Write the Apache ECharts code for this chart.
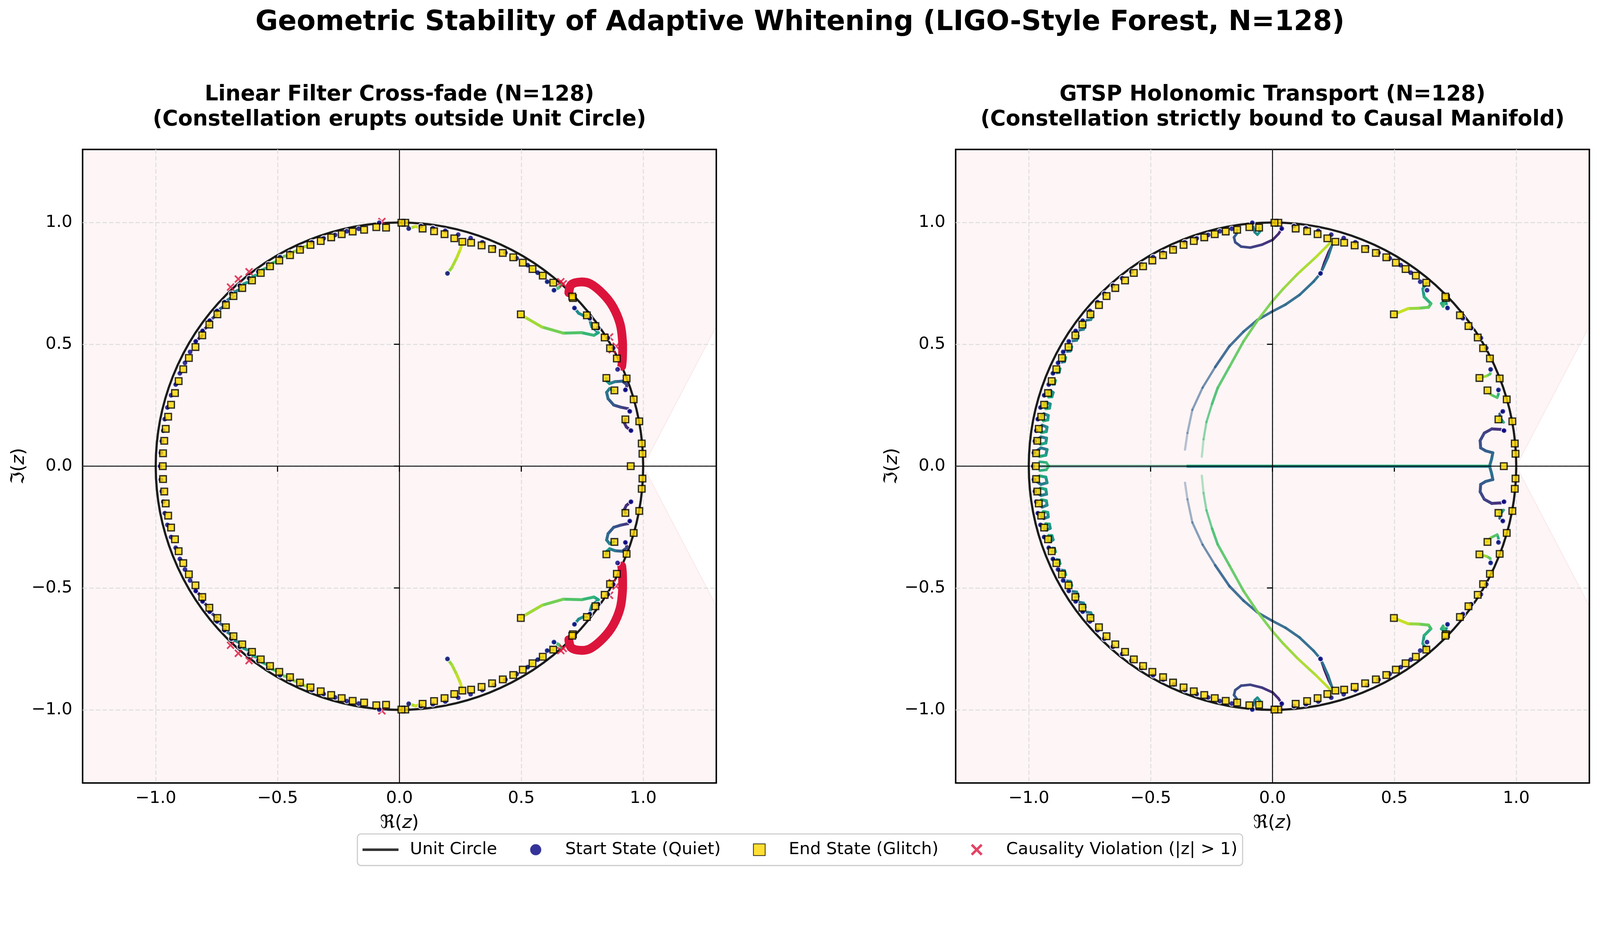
<!DOCTYPE html>
<html><head><meta charset="utf-8">
<script src="https://cdn.jsdelivr.net/npm/echarts@6/dist/echarts.min.js"></script>
<style>html,body{margin:0;padding:0;background:#fff;overflow:hidden}#c{position:absolute;left:0;top:0}</style>
</head><body><div id="c"></div>
<script>
// ---------------- text ----------------
const TITLE = 'Geometric Stability of Adaptive Whitening (LIGO-Style Forest, N=128)';
const SUBTITLES = ['Linear Filter Cross-fade (N=128)\n(Constellation erupts outside Unit Circle)',
                   'GTSP Holonomic Transport (N=128)\n(Constellation strictly bound to Causal Manifold)'];
const LEGEND_NAMES = ['Unit Circle', 'Start State (Quiet)', 'End State (Glitch)', 'Causality Violation (|z| > 1)'];
const AXIS_MIN = -1.3, AXIS_MAX = 1.3;
const TICKS = [-1.0, -0.5, 0.0, 0.5, 1.0];

// ---------------- reference geometry ----------------
const UNIT_CIRCLE = [[0, 0, 1]];
const ZERO_LINES = [[-1.3, 0, 1.3, 0], [0, -1.3, 0, 1.3]];
const BG_POLY = [[-1.3,-1.3],[1.3,-1.3],[1.3,-0.574],[1.0,0.0],[1.3,0.574],[1.3,1.3],[-1.3,1.3]];

// ---------------- end state (glitch) roots ----------------
const SQ_UP = [[0.949,0.000],[0.997,0.051],[0.994,0.093],[0.984,0.184],[0.927,0.192],[0.961,0.274],[0.882,0.311],[0.849,0.362],[0.932,0.360],[0.892,0.442],[0.864,0.484],[0.842,0.528],[0.804,0.575],[0.769,0.619],[0.712,0.690],[0.709,0.696],[0.498,0.623],[0.631,0.753],[0.588,0.782],[0.546,0.809],[0.506,0.835],[0.467,0.857],[0.424,0.875],[0.380,0.891],[0.337,0.906],[0.294,0.917],[0.258,0.921],[0.225,0.935],[0.185,0.952],[0.142,0.964],[0.095,0.975],[0.024,0.999],[0.008,0.999],[-0.055,0.979],[-0.095,0.981],[-0.145,0.970],[-0.192,0.963],[-0.237,0.952],[-0.280,0.939],[-0.323,0.924],[-0.365,0.908],[-0.408,0.888],[-0.449,0.866],[-0.493,0.844],[-0.531,0.820],[-0.569,0.793],[-0.605,0.762],[-0.645,0.731],[-0.681,0.698],[-0.712,0.661],[-0.747,0.623],[-0.780,0.581],[-0.809,0.537],[-0.837,0.489],[-0.864,0.444],[-0.887,0.398],[-0.906,0.349],[-0.921,0.300],[-0.937,0.252],[-0.949,0.203],[-0.959,0.153],[-0.965,0.104],[-0.970,0.053],[-0.971,0.000]];
const SQ_DN = [[0.997,-0.051],[0.994,-0.093],[0.984,-0.184],[0.927,-0.192],[0.961,-0.274],[0.882,-0.311],[0.849,-0.362],[0.932,-0.360],[0.892,-0.442],[0.864,-0.484],[0.842,-0.528],[0.804,-0.575],[0.769,-0.619],[0.712,-0.690],[0.709,-0.696],[0.498,-0.623],[0.631,-0.753],[0.588,-0.782],[0.546,-0.809],[0.506,-0.835],[0.467,-0.857],[0.424,-0.875],[0.380,-0.891],[0.337,-0.906],[0.294,-0.917],[0.258,-0.921],[0.225,-0.935],[0.185,-0.952],[0.142,-0.964],[0.095,-0.975],[0.024,-0.999],[0.008,-0.999],[-0.055,-0.979],[-0.095,-0.981],[-0.145,-0.970],[-0.192,-0.963],[-0.237,-0.952],[-0.280,-0.939],[-0.323,-0.924],[-0.365,-0.908],[-0.408,-0.888],[-0.449,-0.866],[-0.493,-0.844],[-0.531,-0.820],[-0.569,-0.793],[-0.605,-0.762],[-0.645,-0.731],[-0.681,-0.698],[-0.712,-0.661],[-0.747,-0.623],[-0.780,-0.581],[-0.809,-0.537],[-0.837,-0.489],[-0.864,-0.444],[-0.887,-0.398],[-0.906,-0.349],[-0.921,-0.300],[-0.937,-0.252],[-0.949,-0.203],[-0.959,-0.153],[-0.965,-0.104],[-0.970,-0.053]];

// ---------------- start state (quiet) roots ----------------
const DOT_UP = [[0.950,0.146],[0.945,0.225],[0.927,0.313],[0.895,0.397],[0.877,0.485],[0.855,0.526],[0.815,0.567],[0.781,0.607],[0.718,0.649],[0.634,0.722],[0.606,0.757],[0.567,0.794],[0.526,0.825],[0.481,0.853],[0.435,0.876],[0.388,0.898],[0.340,0.919],[0.292,0.936],[0.241,0.950],[0.188,0.966],[0.137,0.977],[0.088,0.985],[0.038,0.975],[0.197,0.791],[-0.083,0.999],[-0.167,0.974],[-0.216,0.964],[-0.264,0.949],[-0.311,0.935],[-0.360,0.919],[-0.405,0.896],[-0.449,0.876],[-0.490,0.858],[-0.538,0.828],[-0.579,0.798],[-0.617,0.771],[-0.655,0.741],[-0.690,0.708],[-0.718,0.673],[-0.749,0.637],[-0.779,0.597],[-0.808,0.555],[-0.836,0.512],[-0.859,0.469],[-0.880,0.424],[-0.901,0.381],[-0.918,0.335],[-0.937,0.291],[-0.952,0.241],[-0.963,0.193],[-0.969,0.146],[-0.975,0.103],[-0.979,0.055],[-0.982,0.000]];
const DOT_DN = [[0.950,-0.146],[0.945,-0.225],[0.927,-0.313],[0.895,-0.397],[0.877,-0.485],[0.855,-0.526],[0.815,-0.567],[0.781,-0.607],[0.718,-0.649],[0.634,-0.722],[0.606,-0.757],[0.567,-0.794],[0.526,-0.825],[0.481,-0.853],[0.435,-0.876],[0.388,-0.898],[0.340,-0.919],[0.292,-0.936],[0.241,-0.950],[0.188,-0.966],[0.137,-0.977],[0.088,-0.985],[0.038,-0.975],[0.197,-0.791],[-0.083,-0.999],[-0.167,-0.974],[-0.216,-0.964],[-0.264,-0.949],[-0.311,-0.935],[-0.360,-0.919],[-0.405,-0.896],[-0.449,-0.876],[-0.490,-0.858],[-0.538,-0.828],[-0.579,-0.798],[-0.617,-0.771],[-0.655,-0.741],[-0.690,-0.708],[-0.718,-0.673],[-0.749,-0.637],[-0.779,-0.597],[-0.808,-0.555],[-0.836,-0.512],[-0.859,-0.469],[-0.880,-0.424],[-0.901,-0.381],[-0.918,-0.335],[-0.937,-0.291],[-0.952,-0.241],[-0.963,-0.193],[-0.969,-0.146],[-0.975,-0.103],[-0.979,-0.055]];

// ---------------- linear cross-fade trajectories ----------------
const LIN_TRAJ_UP = [
 [[0.197,0.791],[0.215,0.815],[0.235,0.855],[0.250,0.890],[0.258,0.921]],
 [[0.781,0.600],[0.789,0.572],[0.816,0.548],[0.798,0.537],[0.747,0.548],[0.672,0.546],[0.585,0.571],[0.516,0.611],[0.498,0.623]],
 [[0.718,0.649],[0.735,0.628],[0.755,0.618],[0.770,0.618]],
 [[0.927,0.313],[0.934,0.334],[0.914,0.349],[0.885,0.347],[0.862,0.339],[0.851,0.349],[0.848,0.361]],
 [[0.945,0.225],[0.937,0.236],[0.908,0.242],[0.879,0.251],[0.856,0.277],[0.850,0.303],[0.862,0.318],[0.880,0.310]],
 [[0.950,0.146],[0.931,0.161],[0.922,0.179],[0.927,0.192]],
 [[0.634,0.722],[0.654,0.732],[0.665,0.745]],
 [[0.038,0.975],[0.066,0.984],[0.095,0.975]]
];
const LIN_TRAJ_DN = [
 [[0.197,-0.791],[0.215,-0.815],[0.235,-0.855],[0.250,-0.890],[0.258,-0.921]],
 [[0.781,-0.600],[0.789,-0.572],[0.816,-0.548],[0.798,-0.537],[0.747,-0.548],[0.672,-0.546],[0.585,-0.571],[0.516,-0.611],[0.498,-0.623]],
 [[0.718,-0.649],[0.735,-0.628],[0.755,-0.618],[0.770,-0.618]],
 [[0.927,-0.313],[0.934,-0.334],[0.914,-0.349],[0.885,-0.347],[0.862,-0.339],[0.851,-0.349],[0.848,-0.361]],
 [[0.945,-0.225],[0.937,-0.236],[0.908,-0.242],[0.879,-0.251],[0.856,-0.277],[0.850,-0.303],[0.862,-0.318],[0.880,-0.310]],
 [[0.950,-0.146],[0.931,-0.161],[0.922,-0.179],[0.927,-0.192]],
 [[0.634,-0.722],[0.654,-0.732],[0.665,-0.745]],
 [[0.038,-0.975],[0.066,-0.984],[0.095,-0.975]]
];
// [t0, t1, width, alpha0, alpha1]
const LIN_TRAJ_STYLE = [[0.82,0.95,8],[0.42,0.96,8],[0.45,0.52,8],[0.08,0.65,8],[0.08,0.50,8],[0.08,0.20,8],[0.60,0.75,8],[0.85,0.95,8]];
// short dot -> square moves [x1,y1,x2,y2]
const LIN_ARC_UP = [[-0.836,0.512,-0.809,0.537],[-0.808,0.555,-0.780,0.581],[-0.779,0.597,-0.747,0.623],[-0.749,0.637,-0.712,0.661],[-0.718,0.673,-0.681,0.698],[-0.690,0.708,-0.645,0.731],[-0.655,0.741,-0.605,0.762],[-0.617,0.771,-0.569,0.793],[-0.579,0.798,-0.531,0.820],[-0.538,0.828,-0.493,0.844],[-0.490,0.858,-0.449,0.866],[-0.449,0.876,-0.408,0.888],[-0.405,0.896,-0.365,0.908],[0.606,0.757,0.631,0.753],[0.567,0.794,0.588,0.782],[0.526,0.825,0.546,0.809]];
const LIN_ARC_DN = [[-0.836,-0.512,-0.809,-0.537],[-0.808,-0.555,-0.780,-0.581],[-0.779,-0.597,-0.747,-0.623],[-0.749,-0.637,-0.712,-0.661],[-0.718,-0.673,-0.681,-0.698],[-0.690,-0.708,-0.645,-0.731],[-0.655,-0.741,-0.605,-0.762],[-0.617,-0.771,-0.569,-0.793],[-0.579,-0.798,-0.531,-0.820],[-0.538,-0.828,-0.493,-0.844],[-0.490,-0.858,-0.449,-0.866],[-0.449,-0.876,-0.408,-0.888],[-0.405,-0.896,-0.365,-0.908],[0.606,-0.757,0.631,-0.753],[0.567,-0.794,0.588,-0.782],[0.526,-0.825,0.546,-0.809]];
const LIN_ARC_T = [0.12,0.16,0.22,0.30,0.40,0.48,0.55,0.60,0.66,0.72,0.78,0.84,0.88,0.75,0.80,0.82];

// ---------------- causality violations (|z|>1) ----------------
const VIOL_BAND_UP = [[0.695,0.712],[0.705,0.745],[0.744,0.756],[0.784,0.748],[0.836,0.706],[0.876,0.654],[0.905,0.585],[0.915,0.515],[0.915,0.442],[0.912,0.410]];
const VIOL_BAND_DN = [[0.695,-0.712],[0.705,-0.745],[0.744,-0.756],[0.784,-0.748],[0.836,-0.706],[0.876,-0.654],[0.905,-0.585],[0.915,-0.515],[0.915,-0.442],[0.912,-0.410]];
const VIOL_PTS = [[0.662,0.757],[0.672,0.748],[-0.693,0.735],[-0.661,0.768],[-0.617,0.798],[-0.072,1.004],[0.873,0.478],[0.889,0.492],[0.862,0.530],
                  [0.662,-0.757],[0.672,-0.748],[-0.693,-0.735],[-0.661,-0.768],[-0.617,-0.798],[-0.072,-1.004],[0.873,-0.478],[0.889,-0.492],[0.862,-0.530]];

// ---------------- GTSP holonomic trajectories ----------------
const GT_TRAJ_UP = [
 [[0.197,0.791],[0.212,0.835],[0.230,0.880],[0.245,0.909]],
 [[0.245,0.909],[0.228,0.858],[0.210,0.818],[0.197,0.791],[0.169,0.758],[0.111,0.703],[0.053,0.663],[-0.004,0.633],[-0.062,0.600],[-0.119,0.552],[-0.177,0.492],[-0.235,0.407]],
 [[-0.235,0.407],[-0.287,0.322],[-0.329,0.231],[-0.349,0.136],[-0.359,0.068]],
 [[-0.290,0.039],[-0.283,0.110],[-0.271,0.181],[-0.248,0.256]],
 [[-0.248,0.256],[-0.225,0.321],[-0.177,0.407],[-0.119,0.512],[-0.062,0.597],[-0.004,0.673],[0.044,0.728],[0.102,0.788],[0.178,0.858],[0.236,0.916],[0.258,0.921]],
 [[0.950,0.146],[0.935,0.151],[0.900,0.153],[0.869,0.136],[0.852,0.105],[0.854,0.075],[0.874,0.063],[0.904,0.055],[0.899,0.030],[0.892,0.005],[0.891,0.000]],
 [[0.926,0.312],[0.927,0.296],[0.922,0.281],[0.895,0.294],[0.880,0.310]],
 [[0.945,0.225],[0.932,0.214],[0.935,0.198],[0.948,0.180],[0.930,0.190]],
 [[0.633,0.752],[0.617,0.728],[0.622,0.695],[0.650,0.667],[0.640,0.652],[0.600,0.648],[0.557,0.647],[0.498,0.623]],
 [[0.718,0.649],[0.709,0.683],[0.692,0.668],[0.700,0.655],[0.712,0.690]],
 [[0.038,0.975],[0.025,0.954],[0.001,0.929],[-0.043,0.909],[-0.091,0.897],[-0.129,0.901],[-0.153,0.919],[-0.158,0.939],[-0.148,0.953],[-0.145,0.970]],
 [[-0.083,0.999],[-0.073,0.960],[-0.062,0.950],[-0.052,0.962],[-0.055,0.979]],
 [[0.895,0.397],[0.893,0.378],[0.878,0.370],[0.849,0.362]],
 [[-0.955,0.018],[-0.928,0.015],[-0.918,0.000]],
 [[-0.979,0.055],[-0.950,0.075],[-0.925,0.068],[-0.930,0.045],[-0.955,0.040],[-0.970,0.053]],
 [[-0.975,0.103],[-0.950,0.120],[-0.927,0.115],[-0.930,0.095],[-0.952,0.090],[-0.965,0.104]],
 [[-0.969,0.146],[-0.945,0.168],[-0.925,0.160],[-0.928,0.142],[-0.948,0.138],[-0.959,0.153]],
 [[-0.963,0.193],[-0.938,0.215],[-0.920,0.208],[-0.922,0.190],[-0.940,0.186],[-0.949,0.203]],
 [[-0.952,0.241],[-0.928,0.262],[-0.912,0.255],[-0.915,0.238],[-0.930,0.236],[-0.937,0.252]],
 [[-0.937,0.291],[-0.912,0.310],[-0.900,0.302],[-0.905,0.285],[-0.918,0.284],[-0.921,0.300]],
 [[-0.918,0.335],[-0.894,0.336],[-0.890,0.352],[-0.906,0.349]],
 [[-0.901,0.381],[-0.875,0.384],[-0.871,0.400],[-0.887,0.398]],
 [[-0.880,0.424],[-0.853,0.428],[-0.848,0.446],[-0.864,0.444]],
 [[-0.859,0.469],[-0.829,0.472],[-0.823,0.490],[-0.837,0.489]],
 [[-0.836,0.512],[-0.803,0.516],[-0.796,0.534],[-0.809,0.537]],
 [[-0.808,0.555],[-0.775,0.561],[-0.768,0.578],[-0.780,0.581]],
 [[-0.779,0.597],[-0.745,0.601],[-0.737,0.618],[-0.747,0.623]]
];
const GT_TRAJ_DN = [
 [[0.197,-0.791],[0.212,-0.835],[0.230,-0.880],[0.245,-0.909]],
 [[0.245,-0.909],[0.228,-0.858],[0.210,-0.818],[0.197,-0.791],[0.169,-0.758],[0.111,-0.703],[0.053,-0.663],[-0.004,-0.633],[-0.062,-0.600],[-0.119,-0.552],[-0.177,-0.492],[-0.235,-0.407]],
 [[-0.235,-0.407],[-0.287,-0.322],[-0.329,-0.231],[-0.349,-0.136],[-0.359,-0.068]],
 [[-0.290,-0.039],[-0.283,-0.110],[-0.271,-0.181],[-0.248,-0.256]],
 [[-0.248,-0.256],[-0.225,-0.321],[-0.177,-0.407],[-0.119,-0.512],[-0.062,-0.597],[-0.004,-0.673],[0.044,-0.728],[0.102,-0.788],[0.178,-0.858],[0.236,-0.916],[0.258,-0.921]],
 [[0.950,-0.146],[0.935,-0.151],[0.900,-0.153],[0.869,-0.136],[0.852,-0.105],[0.854,-0.075],[0.874,-0.063],[0.904,-0.055],[0.899,-0.030],[0.892,-0.005],[0.891,0.000]],
 [[0.926,-0.312],[0.927,-0.296],[0.922,-0.281],[0.895,-0.294],[0.880,-0.310]],
 [[0.945,-0.225],[0.932,-0.214],[0.935,-0.198],[0.948,-0.180],[0.930,-0.190]],
 [[0.633,-0.752],[0.617,-0.728],[0.622,-0.695],[0.650,-0.667],[0.640,-0.652],[0.600,-0.648],[0.557,-0.647],[0.498,-0.623]],
 [[0.718,-0.649],[0.709,-0.683],[0.692,-0.668],[0.700,-0.655],[0.712,-0.690]],
 [[0.038,-0.975],[0.025,-0.954],[0.001,-0.929],[-0.043,-0.909],[-0.091,-0.897],[-0.129,-0.901],[-0.153,-0.919],[-0.158,-0.939],[-0.148,-0.953],[-0.145,-0.970]],
 [[-0.083,-0.999],[-0.073,-0.960],[-0.062,-0.950],[-0.052,-0.962],[-0.055,-0.979]],
 [[0.895,-0.397],[0.893,-0.378],[0.878,-0.370],[0.849,-0.362]],
 [[-0.955,-0.018],[-0.928,-0.015],[-0.918,0.000]],
 [[-0.979,-0.055],[-0.950,-0.075],[-0.925,-0.068],[-0.930,-0.045],[-0.955,-0.040],[-0.970,-0.053]],
 [[-0.975,-0.103],[-0.950,-0.120],[-0.927,-0.115],[-0.930,-0.095],[-0.952,-0.090],[-0.965,-0.104]],
 [[-0.969,-0.146],[-0.945,-0.168],[-0.925,-0.160],[-0.928,-0.142],[-0.948,-0.138],[-0.959,-0.153]],
 [[-0.963,-0.193],[-0.938,-0.215],[-0.920,-0.208],[-0.922,-0.190],[-0.940,-0.186],[-0.949,-0.203]],
 [[-0.952,-0.241],[-0.928,-0.262],[-0.912,-0.255],[-0.915,-0.238],[-0.930,-0.236],[-0.937,-0.252]],
 [[-0.937,-0.291],[-0.912,-0.310],[-0.900,-0.302],[-0.905,-0.285],[-0.918,-0.284],[-0.921,-0.300]],
 [[-0.918,-0.335],[-0.894,-0.336],[-0.890,-0.352],[-0.906,-0.349]],
 [[-0.901,-0.381],[-0.875,-0.384],[-0.871,-0.400],[-0.887,-0.398]],
 [[-0.880,-0.424],[-0.853,-0.428],[-0.848,-0.446],[-0.864,-0.444]],
 [[-0.859,-0.469],[-0.829,-0.472],[-0.823,-0.490],[-0.837,-0.489]],
 [[-0.836,-0.512],[-0.803,-0.516],[-0.796,-0.534],[-0.809,-0.537]],
 [[-0.808,-0.555],[-0.775,-0.561],[-0.768,-0.578],[-0.780,-0.581]],
 [[-0.779,-0.597],[-0.745,-0.601],[-0.737,-0.618],[-0.747,-0.623]]
];
const GT_TRAJ_STYLE = [[0.03,0.10,6],[0.38,0.31,7,1,0.9],[0.31,0.30,6,0.75,0.3],[0.68,0.69,6,0.3,0.85],[0.69,0.93,7,0.9,1],
 [0.10,0.42,8],[0.45,0.90,7],[0.10,0.70,7],[0.45,0.95,8],[0.50,0.70,7],[0.08,0.33,7],[0.35,0.60,7],[0.60,0.90,7],[0.60,0.70,7],
 [0.30,0.70,8],[0.30,0.70,8],[0.30,0.70,8],[0.30,0.70,8],[0.30,0.70,8],[0.30,0.70,8],
 [0.32,0.68,7],[0.32,0.68,7],[0.32,0.68,7],[0.32,0.68,7],[0.32,0.68,7],[0.32,0.68,7],[0.32,0.68,7]];
// two real roots sliding along the real axis
const GT_REAL = [[[-0.960,0.003],[-0.350,0.003]],[[-0.960,-0.003],[-0.350,-0.003]],[[-0.350,0.003],[0.890,0.003]],[[-0.350,-0.003],[0.890,-0.003]]];
const GT_REAL_STYLE = [[0.64,0.64,4.5,0.5,0.5],[0.40,0.40,4.5,0.5,0.5],[0.62,0.62,4.5],[0.42,0.42,4.5]];

// ---------------- page scale (design size 4358 x 2389) ----------------
const VW = window.innerWidth || 4358, VH = window.innerHeight || 2389;
const S = Math.min(VW / 4358, VH / 2389);
const px = v => v * S;
const dom = document.getElementById('c');
dom.style.width = Math.round(4358 * S) + 'px';
dom.style.height = Math.round(2389 * S) + 'px';

// ---------------- styling helpers ----------------
const FONT = 'DejaVu Sans';
const VIRIDIS = ['#440154','#482475','#414487','#355f8d','#2a788e','#21918c','#22a884','#44bf70','#7ad151','#bddf26','#fde725'];
const VIR_RGB = VIRIDIS.map(h => [parseInt(h.slice(1,3),16), parseInt(h.slice(3,5),16), parseInt(h.slice(5,7),16)]);
function viridis(t) {
  t = Math.max(0, Math.min(1, t));
  const x = t * (VIR_RGB.length - 1);
  const i = Math.min(Math.floor(x), VIR_RGB.length - 2), f = x - i;
  const a = VIR_RGB[i], b = VIR_RGB[i + 1];
  return 'rgb(' + [0,1,2].map(k => Math.round(a[k] + (b[k] - a[k]) * f)).join(',') + ')';
}
function segsFromPaths(paths, styles, out) {
  paths.forEach((pts, j) => {
    const st = styles[j], t0 = st[0], t1 = st[1], w = st[2];
    const a0 = st[3] == null ? 1 : st[3], a1 = st[4] == null ? 1 : st[4];
    const n = pts.length;
    for (let i = 0; i < n - 1; i++) {
      const f = (i + 0.5) / (n - 1);
      out.push({p: pts[i], q: pts[i + 1], c: viridis(t0 + (t1 - t0) * f), w: w, a: a0 + (a1 - a0) * f});
    }
  });
  return out;
}
function segsFromPairs(pairs, ts, w, out) {
  pairs.forEach((s, j) => out.push({p: [s[0], s[1]], q: [s[2], s[3]], c: viridis(ts[j]), w: w, a: 1}));
  return out;
}
const LIN_SEGS = [];
segsFromPaths(LIN_TRAJ_UP, LIN_TRAJ_STYLE, LIN_SEGS);
segsFromPaths(LIN_TRAJ_DN, LIN_TRAJ_STYLE, LIN_SEGS);
segsFromPairs(LIN_ARC_UP, LIN_ARC_T, 8, LIN_SEGS);
segsFromPairs(LIN_ARC_DN, LIN_ARC_T, 8, LIN_SEGS);
const GT_SEGS = [];
segsFromPaths(GT_REAL, GT_REAL_STYLE, GT_SEGS);
segsFromPaths(GT_TRAJ_UP, GT_TRAJ_STYLE, GT_SEGS);
segsFromPaths(GT_TRAJ_DN, GT_TRAJ_STYLE, GT_SEGS);

const X_PATH = 'path://M3,0 L10,7 L17,0 L20,3 L13,10 L20,17 L17,20 L10,13 L3,20 L0,17 L7,10 L0,3 Z';
const LINE_ICON = 'path://M0,0 L100,0 L100,7 L0,7 Z';
const SQUARE_ICON = 'path://M0,0 L10,0 L10,10 L0,10 Z';
const fmt = v => { const s = Math.abs(v).toFixed(1); return v < -1e-9 ? '\u2212' + s : s; };
const nameRich = {
  r: {fontFamily: FONT, fontSize: px(50), lineHeight: px(56), color: '#000'},
  n: {fontFamily: FONT, fontSize: px(50), lineHeight: px(56), color: '#000'},
  i: {fontFamily: FONT, fontSize: px(50), lineHeight: px(56), color: '#000', fontStyle: 'italic'}
};
function mkAxis(i, isX) {
  return {type: 'value', gridIndex: i, min: AXIS_MIN, max: AXIS_MAX, splitNumber: 5,
    axisLine: {show: false},
    axisTick: {show: true, length: px(15), lineStyle: {color: '#000', width: px(3)}, customValues: TICKS},
    axisLabel: {customValues: TICKS, formatter: fmt, fontSize: px(46), fontFamily: FONT, color: '#000', margin: px(isX ? 20 : 28)},
    splitLine: {show: true, lineStyle: {color: '#dddddd', width: px(2.5), type: [px(12), px(6)]}},
    name: isX ? '{r|\u211C}{n|(}{i|z}{n|)}' : '{r|\u2111}{n|(}{i|z}{n|)}',
    nameLocation: 'middle', nameRotate: isX ? 0 : 90, nameGap: px(isX ? 82 : 145), nameTextStyle: {rich: nameRich}};
}

function plotSeries(gi, segs, withViol) {
  const s = [];
  s.push({type: 'custom', xAxisIndex: gi, yAxisIndex: gi, z: -1, silent: true, clip: true,
    data: [[0, 0]], encode: {x: 0, y: 1},
    renderItem: (p, api) => ({type: 'polygon', shape: {points: BG_POLY.map(pt => api.coord(pt))},
      style: {fill: '#fdf5f6', stroke: '#fbe6e8', lineWidth: px(2)}})});
  s.push({type: 'custom', name: LEGEND_NAMES[0], xAxisIndex: gi, yAxisIndex: gi, z: 2, silent: true, clip: true,
    itemStyle: {color: '#333333'}, data: UNIT_CIRCLE, encode: {x: 0, y: 1},
    renderItem: (p, api) => { const c = api.coord([api.value(0), api.value(1)]); const r = api.size([api.value(2), api.value(2)])[0];
      return {type: 'circle', shape: {cx: c[0], cy: c[1], r: r}, style: {fill: null, stroke: '#1c1c1c', lineWidth: px(6)}}; }});
  s.push({type: 'custom', xAxisIndex: gi, yAxisIndex: gi, z: 3, silent: true, clip: true,
    data: segs.map(g => [g.p[0], g.p[1]]), encode: {x: 0, y: 1},
    renderItem: (p, api) => { const g = segs[p.dataIndex]; const a = api.coord(g.p), b = api.coord(g.q);
      return {type: 'line', shape: {x1: a[0], y1: a[1], x2: b[0], y2: b[1]},
        style: {stroke: g.c, lineWidth: px(g.w), lineCap: 'round', opacity: g.a}}; }});
  s.push({type: 'custom', xAxisIndex: gi, yAxisIndex: gi, z: 3.5, silent: true, clip: true,
    data: ZERO_LINES, encode: {x: 0, y: 1},
    renderItem: (p, api) => { const L = ZERO_LINES[p.dataIndex]; const a = api.coord([L[0], L[1]]), b = api.coord([L[2], L[3]]);
      return {type: 'line', shape: {x1: a[0], y1: a[1], x2: b[0], y2: b[1]}, style: {stroke: '#000', lineWidth: px(2.5)}}; }});
  if (withViol) {
    s.push({type: 'scatter', name: LEGEND_NAMES[3], xAxisIndex: gi, yAxisIndex: gi, z: 4, silent: true,
      symbol: X_PATH, symbolSize: px(22), symbolKeepAspect: true, itemStyle: {color: '#dc143c'}, data: VIOL_PTS});
    const bands = [VIOL_BAND_UP, VIOL_BAND_DN];
    s.push({type: 'custom', name: LEGEND_NAMES[3], xAxisIndex: gi, yAxisIndex: gi, z: 4, silent: true, clip: true,
      itemStyle: {color: '#dc143c'}, data: bands.map(b => b[0]), encode: {x: 0, y: 1},
      renderItem: (p, api) => ({type: 'polyline', shape: {points: bands[p.dataIndex].map(pt => api.coord(pt)), smooth: 0.35},
        style: {fill: null, stroke: '#dc143c', lineWidth: px(24), lineCap: 'round', lineJoin: 'round'}})});
  }
  s.push({type: 'scatter', name: LEGEND_NAMES[1], xAxisIndex: gi, yAxisIndex: gi, z: 5, silent: true,
    symbol: 'circle', symbolSize: px(15), symbolKeepAspect: true,
    itemStyle: {color: '#000080', borderColor: '#ffffff', borderWidth: px(2.5)}, data: DOT_UP.concat(DOT_DN)});
  s.push({type: 'scatter', name: LEGEND_NAMES[2], xAxisIndex: gi, yAxisIndex: gi, z: 6, silent: true,
    symbol: 'rect', symbolSize: px(18), symbolKeepAspect: true,
    itemStyle: {color: '#ffd700', borderColor: '#000000', borderWidth: px(3.5)}, data: SQ_UP.concat(SQ_DN)});
  return s;
}

const chart = echarts.init(dom, null, {renderer: 'canvas'});
chart.setOption({
  animation: false,
  backgroundColor: '#ffffff',
  title: [
    {text: TITLE, left: 'center', top: px(18), padding: 0, textStyle: {fontFamily: FONT, fontSize: px(75), fontWeight: 'bold', color: '#000', lineHeight: px(88)}},
    {text: SUBTITLES[0], left: px(1088), top: px(224), textAlign: 'center', padding: 0, textStyle: {fontFamily: FONT, fontSize: px(58), fontWeight: 'bold', color: '#000', lineHeight: px(68)}},
    {text: SUBTITLES[1], left: px(3466), top: px(224), textAlign: 'center', padding: 0, textStyle: {fontFamily: FONT, fontSize: px(58), fontWeight: 'bold', color: '#000', lineHeight: px(68)}}
  ],
  legend: {
    left: 'center', top: px(2272), orient: 'horizontal', padding: [px(18), px(14), px(18), px(14)], itemGap: px(88),
    itemWidth: px(98), itemHeight: px(32), symbolKeepAspect: true, selectedMode: false,
    borderColor: '#cccccc', borderWidth: px(3), borderRadius: px(10), backgroundColor: 'rgba(255,255,255,0.8)',
    textStyle: {fontFamily: FONT, fontSize: px(46), color: '#000', lineHeight: px(50), padding: [0, 0, 0, px(26)]},
    data: [{name: LEGEND_NAMES[0], icon: LINE_ICON}, {name: LEGEND_NAMES[1], icon: 'circle'},
           {name: LEGEND_NAMES[2], icon: SQUARE_ICON}, {name: LEGEND_NAMES[3], icon: X_PATH}]
  },
  grid: [
    {left: px(225), top: px(407), width: px(1726), height: px(1726), show: true, backgroundColor: 'transparent', borderColor: '#000', borderWidth: px(4), containLabel: false},
    {left: px(2603), top: px(407), width: px(1726), height: px(1726), show: true, backgroundColor: 'transparent', borderColor: '#000', borderWidth: px(4), containLabel: false}
  ],
  xAxis: [mkAxis(0, true), mkAxis(1, true)],
  yAxis: [mkAxis(0, false), mkAxis(1, false)],
  series: plotSeries(0, LIN_SEGS, true).concat(plotSeries(1, GT_SEGS, false))
});
</script></body></html>
